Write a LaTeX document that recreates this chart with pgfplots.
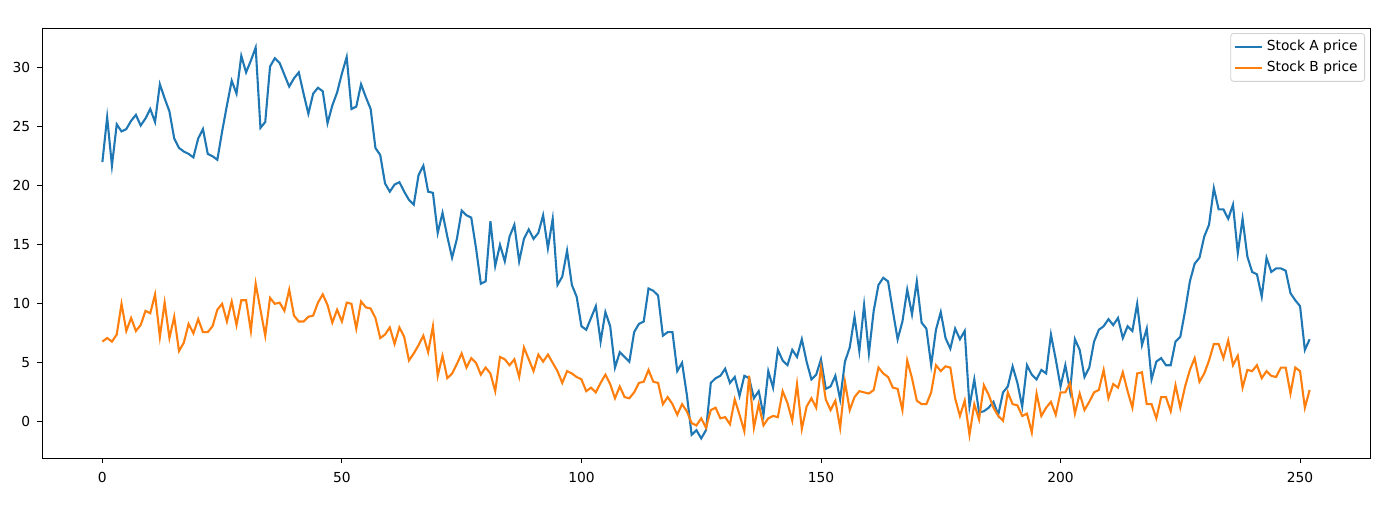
\documentclass[border=0pt]{standalone}
\usepackage{fontspec}
\setmainfont{DejaVu Sans}
\usepackage{pgfplots}
\pgfplotsset{compat=1.18}
\definecolor{c0}{HTML}{1F77B4}
\definecolor{c1}{HTML}{FF7F0E}
\begin{document}
\begin{tikzpicture}
\begin{axis}[
  name=ax,
  scale only axis,
  width=664pt, height=215pt,
  xmin=-12.6, xmax=264.6,
  ymin=-3.06, ymax=33.36,
  xtick={0,50,100,150,200,250},
  ytick={0,5,10,15,20,25,30},
  tick align=outside,
  tick pos=left,
  major tick length=2.4pt,
  tick style={black, line width=0.45pt},
  axis line style={line width=0.45pt},
  every tick label/.append style={font=\fontsize{6.9}{8}\selectfont},
  /pgf/number format/assume math mode=true,
  xticklabel style={yshift=-1pt},
  legend style={at={(1,1)}, anchor=north east, xshift=-2.5pt, yshift=-2.5pt,
    draw=black!18, rounded corners=1.5pt, font=\fontsize{6.9}{7.5}\selectfont,
    inner xsep=1.5pt, inner ysep=1.5pt, row sep=-0.5pt},
  legend cell align=left,
  legend image code/.code={\draw[#1] (0pt,0pt) -- (13.5pt,0pt);},
]
\addplot[c0, line width=1.05pt] coordinates {
(0,22.0)(1,25.8)(2,21.7)(3,25.2)(4,24.6)(5,24.8)(6,25.5)(7,26.0)(8,25.1)(9,25.7)
(10,26.5)(11,25.4)(12,28.6)(13,27.4)(14,26.3)(15,24.0)(16,23.2)(17,22.9)(18,22.7)(19,22.4)
(20,24.0)(21,24.8)(22,22.7)(23,22.5)(24,22.2)(25,24.6)(26,26.8)(27,28.9)(28,27.8)(29,31.0)
(30,29.6)(31,30.6)(32,31.7)(33,24.9)(34,25.4)(35,30.1)(36,30.8)(37,30.4)(38,29.4)(39,28.4)
(40,29.1)(41,29.6)(42,27.8)(43,26.1)(44,27.8)(45,28.3)(46,28.0)(47,25.3)(48,26.8)(49,27.9)
(50,29.5)(51,30.9)(52,26.5)(53,26.7)(54,28.6)(55,27.5)(56,26.5)(57,23.2)(58,22.6)(59,20.2)
(60,19.5)(61,20.1)(62,20.3)(63,19.5)(64,18.8)(65,18.4)(66,20.9)(67,21.7)(68,19.5)(69,19.4)
(70,16.0)(71,17.7)(72,15.7)(73,13.9)(74,15.5)(75,17.9)(76,17.5)(77,17.3)(78,14.7)(79,11.7)
(80,11.9)(81,17.0)(82,13.2)(83,15.0)(84,13.6)(85,15.7)(86,16.7)(87,13.6)(88,15.5)(89,16.3)
(90,15.5)(91,16.0)(92,17.5)(93,14.7)(94,17.2)(95,11.6)(96,12.3)(97,14.5)(98,11.6)(99,10.6)
(100,8.1)(101,7.8)(102,8.8)(103,9.8)(104,6.8)(105,9.3)(106,8.1)(107,4.6)(108,5.9)(109,5.5)
(110,5.1)(111,7.6)(112,8.3)(113,8.5)(114,11.3)(115,11.1)(116,10.7)(117,7.3)(118,7.6)(119,7.6)
(120,4.3)(121,5.0)(122,2.3)(123,-1.1)(124,-0.7)(125,-1.4)(126,-0.7)(127,3.3)(128,3.7)(129,3.9)
(130,4.5)(131,3.3)(132,3.8)(133,2.2)(134,3.9)(135,3.7)(136,2.0)(137,2.6)(138,0.6)(139,4.3)
(140,2.9)(141,6.1)(142,5.2)(143,4.8)(144,6.1)(145,5.5)(146,7.0)(147,5.1)(148,3.6)(149,4.0)
(150,5.3)(151,2.8)(152,3.0)(153,3.9)(154,1.9)(155,5.1)(156,6.3)(157,8.9)(158,6.0)(159,9.9)
(160,5.8)(161,9.4)(162,11.6)(163,12.2)(164,11.9)(165,9.4)(166,7.0)(167,8.5)(168,11.2)(169,9.1)
(170,11.9)(171,8.4)(172,7.9)(173,4.8)(174,7.8)(175,9.3)(176,7.1)(177,6.2)(178,7.9)(179,7.0)
(180,7.7)(181,1.3)(182,3.6)(183,0.8)(184,0.9)(185,1.2)(186,1.7)(187,0.6)(188,2.5)(189,3.0)
(190,4.7)(191,3.3)(192,1.3)(193,4.8)(194,4.0)(195,3.6)(196,4.4)(197,4.1)(198,7.4)(199,5.3)
(200,3.0)(201,4.8)(202,2.6)(203,7.0)(204,6.1)(205,3.8)(206,4.6)(207,6.8)(208,7.8)(209,8.1)
(210,8.7)(211,8.2)(212,8.8)(213,7.1)(214,8.1)(215,7.7)(216,10.0)(217,6.5)(218,7.9)(219,3.6)
(220,5.1)(221,5.4)(222,4.8)(223,4.8)(224,6.8)(225,7.2)(226,9.4)(227,11.9)(228,13.4)(229,13.9)
(230,15.7)(231,16.7)(232,19.8)(233,18.0)(234,18.0)(235,17.2)(236,18.4)(237,14.3)(238,17.2)(239,14.0)
(240,12.7)(241,12.5)(242,10.6)(243,13.9)(244,12.7)(245,13.0)(246,13.0)(247,12.8)(248,10.9)(249,10.3)
(250,9.8)(251,6.1)(252,7.0)
};
\addlegendentry{Stock A price}
\addplot[c1, line width=1.05pt] coordinates {
(0,6.8)(1,7.1)(2,6.8)(3,7.4)(4,10.0)(5,7.7)(6,8.8)(7,7.7)(8,8.2)(9,9.4)
(10,9.2)(11,10.8)(12,7.2)(13,10.1)(14,7.1)(15,8.9)(16,6.0)(17,6.7)(18,8.3)(19,7.5)
(20,8.7)(21,7.6)(22,7.6)(23,8.1)(24,9.5)(25,10.0)(26,8.5)(27,10.2)(28,8.2)(29,10.3)
(30,10.3)(31,7.7)(32,11.7)(33,9.5)(34,7.3)(35,10.5)(36,10.0)(37,10.1)(38,9.4)(39,11.2)
(40,9.0)(41,8.5)(42,8.5)(43,8.9)(44,9.0)(45,10.1)(46,10.8)(47,9.9)(48,8.4)(49,9.5)
(50,8.5)(51,10.1)(52,10.0)(53,7.9)(54,10.2)(55,9.7)(56,9.6)(57,8.8)(58,7.1)(59,7.4)
(60,8.0)(61,6.6)(62,8.0)(63,7.2)(64,5.2)(65,5.8)(66,6.5)(67,7.3)(68,5.9)(69,8.1)
(70,3.9)(71,5.6)(72,3.7)(73,4.1)(74,4.9)(75,5.8)(76,4.6)(77,5.4)(78,5.0)(79,4.0)
(80,4.6)(81,4.1)(82,2.6)(83,5.5)(84,5.3)(85,4.8)(86,5.3)(87,3.8)(88,6.3)(89,5.3)
(90,4.3)(91,5.7)(92,5.1)(93,5.7)(94,5.0)(95,4.3)(96,3.3)(97,4.3)(98,4.1)(99,3.8)
(100,3.6)(101,2.6)(102,2.9)(103,2.5)(104,3.3)(105,4.0)(106,3.2)(107,2.0)(108,3.0)(109,2.1)
(110,2.0)(111,2.5)(112,3.3)(113,3.4)(114,4.4)(115,3.4)(116,3.3)(117,1.5)(118,2.1)(119,1.5)
(120,0.6)(121,1.5)(122,0.9)(123,-0.1)(124,-0.3)(125,0.3)(126,-0.5)(127,1.0)(128,1.2)(129,0.3)
(130,0.4)(131,-0.2)(132,1.9)(133,0.6)(134,-0.8)(135,3.9)(136,-0.5)(137,1.5)(138,-0.3)(139,0.3)
(140,0.5)(141,0.4)(142,2.6)(143,1.6)(144,0.1)(145,3.2)(146,-0.6)(147,1.3)(148,2.0)(149,1.2)
(150,4.6)(151,1.9)(152,1.0)(153,1.8)(154,-0.5)(155,3.4)(156,1.0)(157,2.1)(158,2.6)(159,2.5)
(160,2.4)(161,2.7)(162,4.6)(163,4.1)(164,3.8)(165,2.9)(166,2.8)(167,1.0)(168,5.2)(169,3.7)
(170,1.8)(171,1.5)(172,1.5)(173,2.5)(174,4.8)(175,4.3)(176,4.7)(177,4.6)(178,2.0)(179,0.5)
(180,1.8)(181,-1.1)(182,1.5)(183,0.2)(184,3.1)(185,2.3)(186,1.2)(187,0.5)(188,0.1)(189,2.5)
(190,1.5)(191,1.4)(192,0.5)(193,0.7)(194,-0.9)(195,2.4)(196,0.5)(197,1.2)(198,1.7)(199,0.6)
(200,2.5)(201,2.5)(202,3.3)(203,0.7)(204,2.4)(205,1.0)(206,1.7)(207,2.5)(208,2.7)(209,4.4)
(210,2.0)(211,3.2)(212,2.9)(213,4.2)(214,2.6)(215,1.2)(216,4.1)(217,4.2)(218,1.5)(219,1.5)
(220,0.3)(221,2.1)(222,2.1)(223,0.9)(224,3.1)(225,1.2)(226,3.0)(227,4.4)(228,5.4)(229,3.4)
(230,4.1)(231,5.2)(232,6.6)(233,6.6)(234,5.4)(235,6.9)(236,4.8)(237,5.6)(238,2.9)(239,4.4)
(240,4.3)(241,4.8)(242,3.7)(243,4.3)(244,3.9)(245,3.8)(246,4.6)(247,4.6)(248,2.4)(249,4.6)
(250,4.3)(251,1.2)(252,2.7)
};
\addlegendentry{Stock B price}
\end{axis}
\useasboundingbox ([xshift=-21pt,yshift=-23.5pt]ax.south west) rectangle ([xshift=15pt,yshift=14pt]ax.north east);
\end{tikzpicture}
\end{document}
